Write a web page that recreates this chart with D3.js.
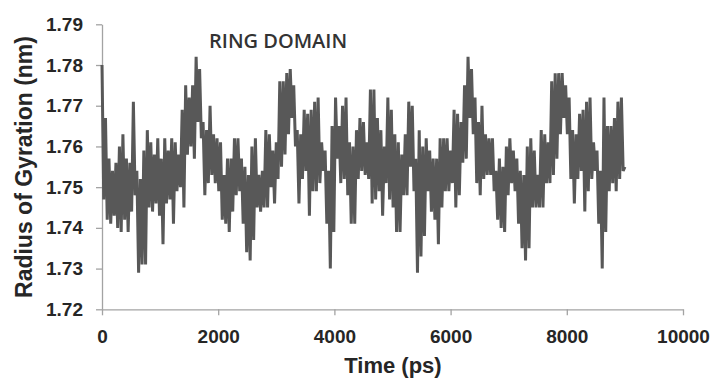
<!DOCTYPE html>
<html>
<head>
<meta charset="utf-8">
<script src="https://cdn.jsdelivr.net/npm/d3@7"></script>
<style>
  html, body { margin: 0; padding: 0; background: #ffffff; }
  svg { display: block; }
</style>
</head>
<body>
<svg id="chart" width="714" height="378"></svg>
<script>
// Radius of gyration of the ring domain, sampled every 30 ps over a 9 ns trajectory
const timeStep = 30;
const rgValues = [
  1.780, 1.747, 1.767, 1.742, 1.757, 1.741, 1.754, 1.743, 1.756, 1.740,
  1.760, 1.739, 1.763, 1.742, 1.757, 1.739, 1.756, 1.744, 1.771, 1.748,
  1.754, 1.729, 1.752, 1.731, 1.759, 1.731, 1.764, 1.745, 1.761, 1.744,
  1.758, 1.746, 1.762, 1.743, 1.757, 1.736, 1.762, 1.746, 1.759, 1.747,
  1.762, 1.741, 1.761, 1.749, 1.758, 1.750, 1.769, 1.745, 1.775, 1.758,
  1.772, 1.760, 1.775, 1.757, 1.782, 1.766, 1.779, 1.762, 1.766, 1.748,
  1.764, 1.751, 1.770, 1.753, 1.763, 1.751, 1.762, 1.749, 1.761, 1.742,
  1.753, 1.741, 1.757, 1.739, 1.757, 1.744, 1.762, 1.748, 1.762, 1.749,
  1.757, 1.741, 1.755, 1.734, 1.753, 1.732, 1.760, 1.737, 1.762, 1.745,
  1.753, 1.744, 1.754, 1.745, 1.764, 1.745, 1.763, 1.750, 1.759, 1.746,
  1.761, 1.752, 1.776, 1.755, 1.776, 1.758, 1.778, 1.763, 1.779, 1.767,
  1.775, 1.760, 1.764, 1.746, 1.763, 1.752, 1.769, 1.754, 1.768, 1.743,
  1.769, 1.749, 1.771, 1.749, 1.772, 1.751, 1.761, 1.754, 1.759, 1.741,
  1.754, 1.730, 1.765, 1.739, 1.772, 1.757, 1.765, 1.751, 1.770, 1.752,
  1.772, 1.748, 1.761, 1.741, 1.760, 1.741, 1.764, 1.752, 1.767, 1.754,
  1.766, 1.753, 1.761, 1.752, 1.774, 1.746, 1.774, 1.747, 1.767, 1.749,
  1.764, 1.743, 1.760, 1.751, 1.772, 1.747, 1.769, 1.745, 1.763, 1.739,
  1.761, 1.739, 1.758, 1.748, 1.763, 1.748, 1.771, 1.755, 1.770, 1.749,
  1.757, 1.729, 1.764, 1.733, 1.760, 1.738, 1.762, 1.749, 1.759, 1.744,
  1.757, 1.742, 1.757, 1.736, 1.762, 1.745, 1.762, 1.749, 1.762, 1.749,
  1.759, 1.751, 1.769, 1.745, 1.768, 1.748, 1.766, 1.756, 1.775, 1.757,
  1.782, 1.767, 1.779, 1.763, 1.772, 1.751, 1.766, 1.748, 1.770, 1.752,
  1.763, 1.753, 1.762, 1.753, 1.762, 1.749, 1.754, 1.742, 1.757, 1.740,
  1.755, 1.739, 1.760, 1.748, 1.762, 1.751, 1.759, 1.749, 1.757, 1.741,
  1.754, 1.735, 1.753, 1.732, 1.760, 1.735, 1.762, 1.745, 1.759, 1.745,
  1.753, 1.745, 1.764, 1.745, 1.763, 1.751, 1.761, 1.751, 1.776, 1.753,
  1.778, 1.757, 1.778, 1.763, 1.778, 1.767, 1.775, 1.763, 1.772, 1.752,
  1.764, 1.746, 1.763, 1.752, 1.768, 1.754, 1.769, 1.744, 1.771, 1.749,
  1.772, 1.752, 1.761, 1.754, 1.759, 1.741, 1.754, 1.730, 1.772, 1.739,
  1.765, 1.749, 1.765, 1.751, 1.767, 1.749, 1.771, 1.752, 1.772, 1.754,
  1.755
];
const xTicks = [0, 2000, 4000, 6000, 8000, 10000];
const yTicks = [1.72, 1.73, 1.74, 1.75, 1.76, 1.77, 1.78, 1.79];
const xTitle = "Time (ps)";
const yTitle = "Radius of Gyration (nm)";
const panelLabel = "RING DOMAIN";

const svg = d3.select("#chart");
const axisColor = "#a3a3a3";
const textColor = "#262626";
const tickFont = "'Liberation Sans', Arial, sans-serif";

const x = d3.scaleLinear().domain([0, 10000]).range([102, 683]);
const y = d3.scaleLinear().domain([1.72, 1.79]).range([309.3, 24.3]);

// y axis
const gy = svg.append("g")
  .attr("transform", `translate(${x(0)},0)`)
  .call(d3.axisLeft(y).tickValues(yTicks).tickSize(6).tickSizeOuter(0)
    .tickPadding(13).tickFormat(d3.format(".2f")));
gy.select(".domain").attr("stroke", axisColor).attr("stroke-width", 1.3);
gy.selectAll(".tick line").attr("stroke", axisColor).attr("stroke-width", 1.3);
gy.selectAll(".tick text")
  .attr("fill", textColor)
  .style("font-family", tickFont)
  .style("font-weight", "bold")
  .style("font-size", "19px");

// x axis
const gx = svg.append("g")
  .attr("transform", `translate(0,${y(1.72)})`)
  .call(d3.axisBottom(x).tickValues(xTicks).tickSize(6).tickSizeOuter(0)
    .tickFormat(d3.format("d")));
gx.select(".domain").attr("stroke", axisColor).attr("stroke-width", 1.3);
gx.selectAll(".tick line").attr("stroke", axisColor).attr("stroke-width", 1.3);
gx.selectAll(".tick text")
  .attr("dy", null)
  .attr("y", 34)
  .attr("fill", textColor)
  .style("font-family", tickFont)
  .style("font-weight", "bold")
  .style("font-size", "19px");

// trajectory trace
const line = d3.line()
  .x((d, i) => x(i * timeStep))
  .y(d => y(d));
svg.append("path")
  .datum(rgValues)
  .attr("d", line)
  .attr("fill", "none")
  .attr("stroke", "#585858")
  .attr("stroke-width", 3)
  .attr("stroke-linejoin", "miter");

// axis titles
svg.append("text")
  .attr("x", 393)
  .attr("y", 373)
  .attr("text-anchor", "middle")
  .attr("fill", textColor)
  .style("font-family", tickFont)
  .style("font-weight", "bold")
  .style("font-size", "22px")
  .text(xTitle);

svg.append("text")
  .attr("transform", "translate(32,167) rotate(-90)")
  .attr("text-anchor", "middle")
  .attr("fill", textColor)
  .style("font-family", tickFont)
  .style("font-weight", "bold")
  .style("font-size", "23px")
  .text(yTitle);

// panel label
svg.append("text")
  .attr("x", 209)
  .attr("y", 48)
  .attr("fill", "#333333")
  .style("font-family", "'Open Sans', sans-serif")
  .style("font-weight", 600)
  .style("font-size", "20px")
  .text(panelLabel);
</script>
</body>
</html>
